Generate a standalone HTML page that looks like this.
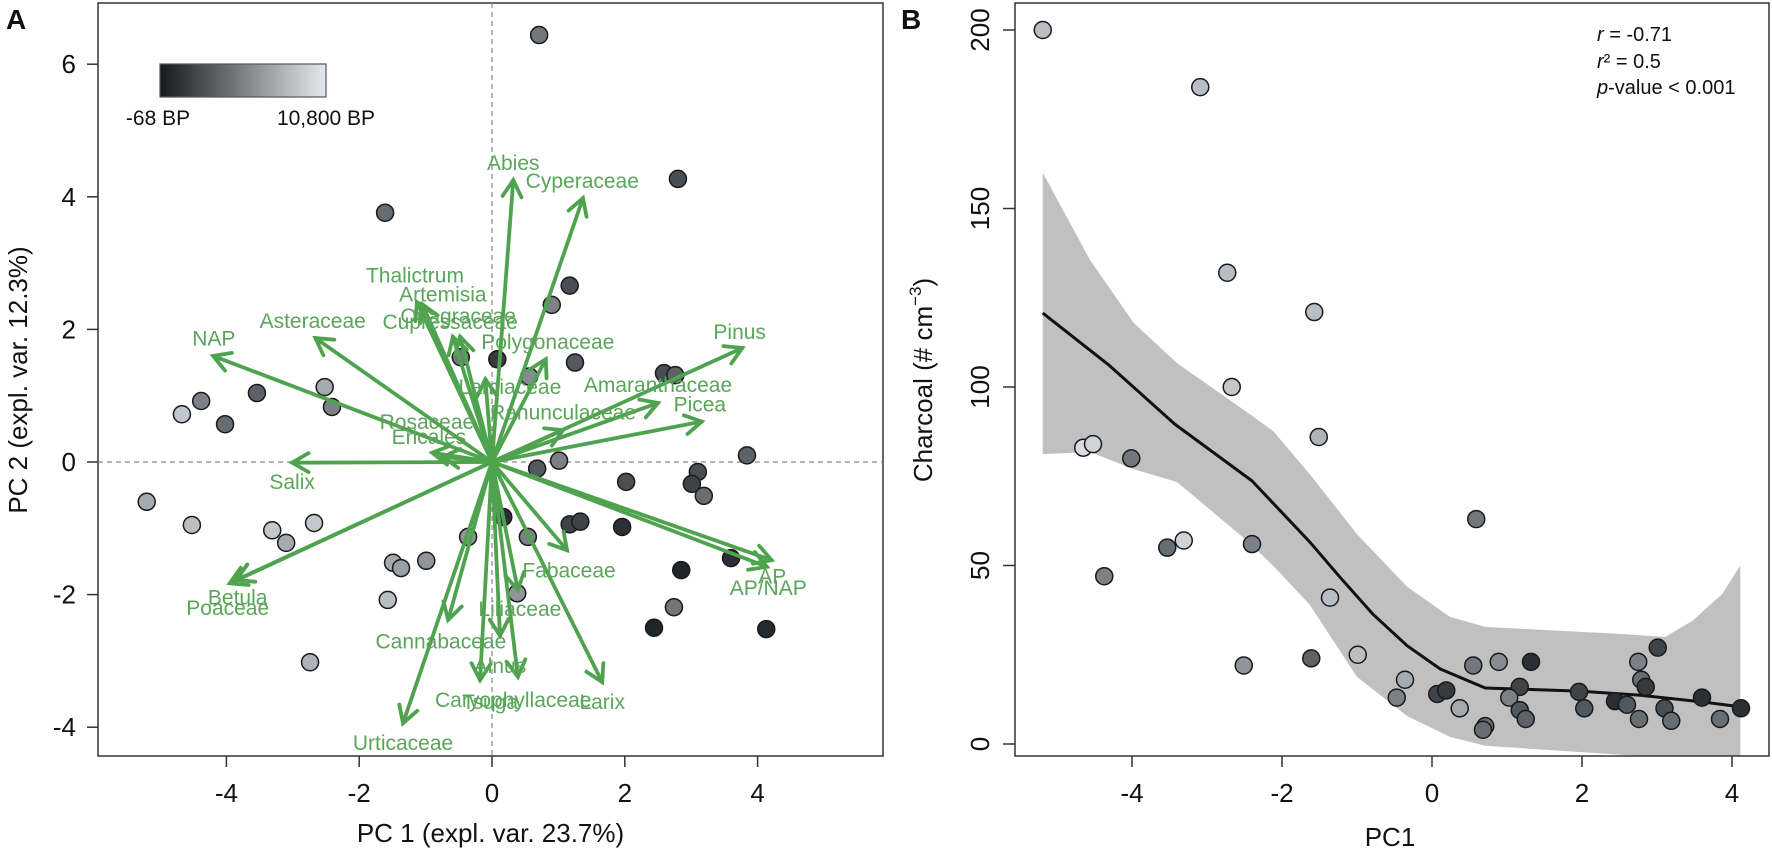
<!DOCTYPE html>
<html>
<head>
<meta charset="utf-8">
<style>
html,body{margin:0;padding:0;background:#fff;}
svg{display:block;font-family:"Liberation Sans",Arial,sans-serif;}
</style>
</head>
<body>
<svg id="chart" width="1772" height="854" viewBox="0 0 1772 854" xmlns="http://www.w3.org/2000/svg">
  <defs>
    <linearGradient id="cbar" x1="0" x2="1" y1="0" y2="0">
      <stop offset="0" stop-color="#15191d"/>
      <stop offset="1" stop-color="#e4e9ef"/>
    </linearGradient>
  </defs>
  <rect width="1772" height="854" fill="#fff"/>
  <g id="panelA"></g>
  <g id="panelB"></g>
</svg>
<script>
// ---------- Panel A data ----------
const pcaX = [0.71,2.80,1.17,0.90,0.08,1.25,0.56,2.59,2.76,3.84,1.01,0.68,2.02,3.10,3.01,3.19,0.17,1.17,1.33,1.96,0.54,3.60,2.85,0.38,2.74,2.44,4.13,-1.61,-0.47,-3.54,-4.38,-4.67,-4.02,-2.52,-2.41,-5.20,-4.52,-3.31,-3.10,-2.68,-0.36,-1.49,-1.37,-0.99,-1.57,-2.74];
const pcaY = [6.44,4.27,2.66,2.37,1.55,1.50,1.29,1.34,1.31,0.10,0.02,-0.10,-0.30,-0.15,-0.33,-0.51,-0.83,-0.94,-0.90,-0.98,-1.13,-1.45,-1.63,-1.98,-2.19,-2.50,-2.52,3.76,1.58,1.04,0.92,0.72,0.57,1.13,0.83,-0.60,-0.95,-1.03,-1.22,-0.92,-1.13,-1.52,-1.60,-1.49,-2.08,-3.02];
const pcaAge = [0.45,0.25,0.25,0.5,0.15,0.3,0.55,0.25,0.35,0.35,0.5,0.3,0.25,0.25,0.2,0.4,0.1,0.2,0.2,0.1,0.5,0.1,0.05,0.6,0.45,0.05,0.08,0.4,0.45,0.35,0.5,0.85,0.4,0.7,0.5,0.7,0.8,0.85,0.7,0.85,0.6,0.7,0.65,0.6,0.8,0.75];
const taxa = ["Abies","Cyperaceae","Pinus","Polygonaceae","Amaranthaceae","Picea","Ranunculaceae","Lamiaceae","Rosaceae","Ericales","Salix","Asteraceae","Thalictrum","Artemisia","Onagraceae","Cupressaceae","NAP","Betula","Poaceae","Cannabaceae","Urticaceae","Fabaceae","Liliaceae","Alnus","Tsuga","Caryophyllaceae","Larix","AP","AP/NAP"];
const loadX = [0.32,1.37,3.77,0.81,2.50,3.16,1.07,-0.10,-0.90,-0.74,-3.01,-2.66,-1.13,-1.05,-0.59,-0.48,-4.20,-3.95,-3.85,-0.66,-1.34,1.13,0.39,0.12,-0.18,0.39,1.66,4.21,4.14];
const loadY = [4.25,3.98,1.72,1.55,0.89,0.61,0.48,1.25,0.14,0.08,-0.01,1.87,2.41,2.38,1.89,1.89,1.60,-1.83,-1.78,-2.38,-3.94,-1.33,-1.93,-2.62,-3.29,-3.24,-3.32,-1.48,-1.58];
const labX = [0.32,1.36,3.73,0.84,2.50,3.13,1.07,0.27,-0.98,-0.95,-3.01,-2.70,-1.16,-0.74,-0.51,-0.63,-4.19,-3.83,-3.98,-0.77,-1.34,1.16,0.42,0.12,-0.03,0.32,1.66,4.22,4.16];
const labY = [4.51,4.24,1.96,1.81,1.16,0.87,0.75,1.13,0.60,0.38,-0.30,2.13,2.81,2.53,2.20,2.11,1.86,-2.04,-2.20,-2.71,-4.24,-1.64,-2.22,-3.08,-3.62,-3.59,-3.62,-1.73,-1.90];
const aTicksX = [-4,-2,0,2,4];
const aTicksY = [-4,-2,0,2,4,6];

// ---------- Panel B data ----------
const pc1 = [-5.19,-3.09,-2.73,-1.57,-2.67,-4.65,-4.52,-4.01,-1.51,0.59,-3.53,-3.31,-2.40,-4.37,-1.36,-2.51,-1.61,-0.99,-0.36,-0.47,0.07,0.19,0.37,0.55,0.89,1.32,1.17,1.03,1.17,1.25,0.71,0.68,1.96,2.03,2.44,2.60,2.75,2.79,2.85,2.76,3.01,3.10,3.19,3.60,3.84,4.12];
const charcoal = [200,184,132,121,100,83,84,80,86,63,55,57,56,47,41,22,24,25,18,13,14,15,10,22,23,23,16,13,9.5,7,5,4,14.6,10,12,11,23,18,16,7,27,10,6.5,13,7,10];
const bAge = [0.8,0.8,0.8,0.8,0.85,0.95,0.9,0.45,0.75,0.45,0.4,0.9,0.5,0.5,0.8,0.6,0.35,0.8,0.7,0.5,0.2,0.15,0.7,0.45,0.55,0.1,0.2,0.5,0.3,0.35,0.4,0.4,0.2,0.3,0.1,0.3,0.5,0.4,0.15,0.4,0.2,0.25,0.4,0.1,0.4,0.1];
const fitX = [-5.19,-4.3,-3.43,-2.40,-1.63,-1.23,-0.79,-0.33,0.11,0.71,1.96,2.76,3.64,4.12];
const fitY = [120.7,106,89.6,73.7,56.6,46.8,36.4,27.5,21,15.7,14.8,13.7,11.7,10.4];
const bandX = [-5.19,-4.56,-3.98,-3.40,-2.47,-2.12,-1.63,-1.0,-0.33,0.24,0.71,2.53,3.11,3.47,3.87,4.11];
const bandUp = [160,135.6,118,106.7,93,87.7,75.6,58.8,44,35.6,32.8,30.8,30,34.5,42,50];
const bandLo = [81.2,81.8,77,73.4,57,50,39,18.8,7.8,2,-0.5,-3,-3.5,-3.5,-3.5,-3.5];
const bTicksX = [-4,-2,0,2,4];
const bTicksY = [0,50,100,150,200];

const NS = "http://www.w3.org/2000/svg";
function mk(parent, tag, attrs, text){
  const e = document.createElementNS(NS, tag);
  for (const k in attrs) e.setAttribute(k, attrs[k]);
  if (text !== undefined) e.textContent = text;
  parent.appendChild(e);
  return e;
}
function shade(t){
  const a=[22,27,32], b=[226,231,238];
  const c=a.map((v,i)=>Math.round(v+(b[i]-v)*t));
  return "rgb("+c.join(",")+")";
}

// ---------- Panel A ----------
(function(){
  const g = document.getElementById('panelA');
  const L=98,T=3,R=883,B=756;
  const sx = v => 492 + 66.4*v;
  const sy = v => 462 - 66.3*v;

  const f = mk(g,'rect',{x:L,y:T,width:R-L,height:B-T,fill:'none',stroke:'#333','stroke-width':1.5});
  
  

  const vz = mk(g,'line',{x1:sx(0),x2:sx(0),y1:T,y2:B,stroke:'#888','stroke-width':1.2,'stroke-dasharray':'5,4'});
  
  
  const hz = mk(g,'line',{x1:L,x2:R,y1:sy(0),y2:sy(0),stroke:'#888','stroke-width':1.2,'stroke-dasharray':'5,4'});
  
  

  aTicksX.forEach(v=>{
    const t = mk(g,'line',{x1:sx(v),x2:sx(v),y1:B,y2:B+11,stroke:'#333','stroke-width':1.5});
    
    
    const l = mk(g,'text',{x:sx(v),y:802,'text-anchor':'middle','font-size':26,fill:'#111'},String(v));
    
    
  });
  aTicksY.forEach(v=>{
    const t = mk(g,'line',{x1:L-11,x2:L,y1:sy(v),y2:sy(v),stroke:'#333','stroke-width':1.5});
    
    
    const l = mk(g,'text',{x:76,y:sy(v)+9,'text-anchor':'end','font-size':26,fill:'#111'},String(v));
    
    
  });
  const xt = mk(g,'text',{x:(L+R)/2,y:842,'text-anchor':'middle','font-size':26,fill:'#111'},'PC 1 (expl. var. 23.7%)');
  
  
  const yt = mk(g,'text',{x:0,y:0,'text-anchor':'middle','font-size':26,fill:'#111',transform:'translate(27,380) rotate(-90)'},'PC 2 (expl. var. 12.3%)');
  
  
  const pl = mk(g,'text',{x:6,y:29,'font-size':28,'font-weight':'bold',fill:'#111'},'A');
  
  

  const cb = mk(g,'rect',{x:160,y:64,width:166,height:33,fill:'url(#cbar)',stroke:'#555','stroke-width':1.2});
  
  
  const c1 = mk(g,'text',{x:158,y:125,'text-anchor':'middle','font-size':21,fill:'#111'},'-68 BP');
  
  
  const c2 = mk(g,'text',{x:326,y:125,'text-anchor':'middle','font-size':21,fill:'#111'},'10,800 BP');
  
  

  pcaX.forEach((x,i)=>{
    const c = mk(g,'circle',{cx:sx(x),cy:sy(pcaY[i]),r:8.5,fill:shade(pcaAge[i]),stroke:'#1a1a1a','stroke-width':1.5});
    
    
  });

  const ox=sx(0), oy=sy(0);
  taxa.forEach((name,i)=>{
    const tx=sx(loadX[i]), ty=sy(loadY[i]);
    const ag = mk(g,'g',{stroke:'#4fa34f','stroke-width':3.8,fill:'none','stroke-linecap':'round'});
    
    
    mk(ag,'line',{x1:ox,y1:oy,x2:tx,y2:ty});
    const ang=Math.atan2(ty-oy,tx-ox), hl=19, ha=Math.PI/6;
    const p1=[tx-hl*Math.cos(ang-ha), ty-hl*Math.sin(ang-ha)];
    const p2=[tx-hl*Math.cos(ang+ha), ty-hl*Math.sin(ang+ha)];
    mk(ag,'polyline',{points:p1.join(',')+' '+tx+','+ty+' '+p2.join(',')});
  });
  taxa.forEach((name,i)=>{
    const t = mk(g,'text',{x:sx(labX[i]),y:sy(labY[i])+7,'text-anchor':'middle','font-size':21,fill:'#5aa55a'},name);
    
    
  });
})();

// ---------- Panel B ----------
(function(){
  const g = document.getElementById('panelB');
  const L=1015,T=3,R=1769,B=756;
  const sx = v => 1432 + 75*v;
  const sy = v => 744 - 3.57*v;

  const clip = mk(g,'clipPath',{id:'clipB'});
  mk(clip,'rect',{x:L,y:T,width:R-L,height:B-T});

  let d='M'+sx(bandX[0])+','+sy(bandUp[0]);
  for(let i=1;i<bandX.length;i++) d+=' L'+sx(bandX[i])+','+sy(bandUp[i]);
  for(let i=bandX.length-1;i>=0;i--) d+=' L'+sx(bandX[i])+','+sy(bandLo[i]);
  d+='Z';
  const band = mk(g,'path',{d:d,fill:'#c0c0c0',stroke:'none','clip-path':'url(#clipB)'});
  
  

  const pts = fitX.map((x,i)=>sx(x)+','+sy(fitY[i])).join(' ');
  const fl = mk(g,'polyline',{points:pts,fill:'none',stroke:'#111','stroke-width':3,'stroke-linejoin':'round'});
  
  

  pc1.forEach((x,i)=>{
    const c = mk(g,'circle',{cx:sx(x),cy:sy(charcoal[i]),r:8.5,fill:shade(bAge[i]),stroke:'#1a1a1a','stroke-width':1.5});
    
    
  });

  const f = mk(g,'rect',{x:L,y:T,width:R-L,height:B-T,fill:'none',stroke:'#333','stroke-width':1.5});
  
  

  bTicksX.forEach(v=>{
    const t = mk(g,'line',{x1:sx(v),x2:sx(v),y1:B,y2:B+11,stroke:'#333','stroke-width':1.5});
    
    
    const l = mk(g,'text',{x:sx(v),y:802,'text-anchor':'middle','font-size':26,fill:'#111'},String(v));
    
    
  });
  bTicksY.forEach(v=>{
    const t = mk(g,'line',{x1:L-12,x2:L,y1:sy(v),y2:sy(v),stroke:'#333','stroke-width':1.5});
    
    
    const l = mk(g,'text',{x:0,y:0,'text-anchor':'middle','font-size':26,fill:'#111',transform:'translate(989,'+sy(v)+') rotate(-90)'},String(v));
    
    
  });
  const xt = mk(g,'text',{x:1390,y:846,'text-anchor':'middle','font-size':26,fill:'#111'},'PC1');
  
  
  const yt = mk(g,'text',{x:0,y:0,'text-anchor':'middle','font-size':26,fill:'#111',transform:'translate(932,380) rotate(-90)'});
  
  
  yt.appendChild(document.createTextNode('Charcoal (# cm'));
  mk(yt,'tspan',{'font-size':17,dy:-11},'−3');
  mk(yt,'tspan',{dy:11},')');
  const pl = mk(g,'text',{x:901,y:29,'font-size':28,'font-weight':'bold',fill:'#111'},'B');
  
  

  const st = mk(g,'text',{x:1597,y:41,'font-size':20,fill:'#111'});
  
  
  mk(st,'tspan',{'font-style':'italic'},'r');
  st.appendChild(document.createTextNode(' = -0.71'));
  const st2 = mk(g,'text',{x:1597,y:68,'font-size':20,fill:'#111'});
  
  
  mk(st2,'tspan',{'font-style':'italic'},'r');
  st2.appendChild(document.createTextNode('² = 0.5'));
  const st3 = mk(g,'text',{x:1597,y:94,'font-size':20,fill:'#111'});
  
  
  mk(st3,'tspan',{'font-style':'italic'},'p');
  st3.appendChild(document.createTextNode('-value < 0.001'));
})();
</script>
</body>
</html>
